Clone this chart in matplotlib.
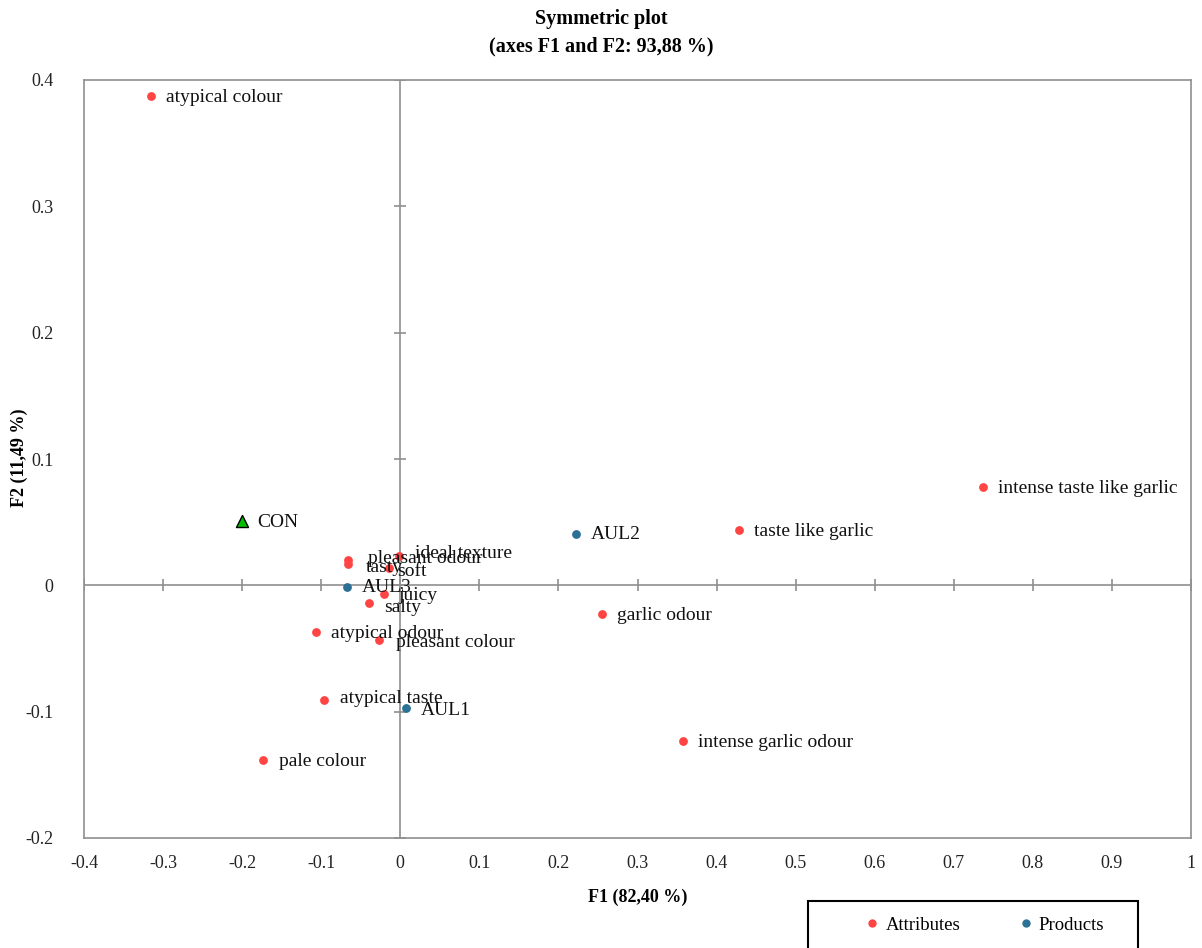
import numpy as np
import matplotlib
matplotlib.use("Agg")
import matplotlib.pyplot as plt
from matplotlib.patches import Rectangle
from matplotlib.lines import Line2D

plt.rcParams['font.family'] = ['Liberation Serif', 'DejaVu Serif']

# Attributes (red points)
attr_names = ["atypical colour", "intense taste like garlic", "taste like garlic",
              "pleasant odour", "tasty", "ideal texture", "soft", "juicy", "salty",
              "atypical odour", "pleasant colour", "garlic odour", "atypical taste",
              "intense garlic odour", "pale colour"]
attr_f1 = [-0.315, 0.737, 0.428, -0.066, -0.066, -0.002, -0.014, -0.021, -0.040,
           -0.107, -0.027, 0.255, -0.096, 0.357, -0.173]
attr_f2 = [0.387, 0.0776, 0.0435, 0.0198, 0.0166, 0.023, 0.014, -0.007, -0.014,
           -0.037, -0.043, -0.023, -0.0905, -0.1235, -0.138]

# Products (blue points)
prod_names = ["AUL1", "AUL2", "AUL3"]
prod_f1 = [0.007, 0.222, -0.068]
prod_f2 = [-0.097, 0.041, -0.001]

# Control (green triangle)
con_name = "CON"
con_f1 = -0.200
con_f2 = 0.051

xticks = [-0.4, -0.3, -0.2, -0.1, 0, 0.1, 0.2, 0.3, 0.4, 0.5, 0.6, 0.7, 0.8, 0.9, 1]
yticks = [-0.2, -0.1, 0, 0.1, 0.2, 0.3, 0.4]

RED = "#FF4444"
BLUE = "#2B7196"
GREEN = "#00C000"
GRAY = "#8f8f8f"

# label offsets in points (x, y)
offsets = {"pleasant odour": (14, 1), "tasty": (13, -2), "ideal texture": (12, 2),
           "soft": (6, -3), "juicy": (11, -1), "salty": (11, -3),
           "pleasant colour": (12, -2), "atypical taste": (11, 1), "AUL1": (11, -2)}

fig = plt.figure(figsize=(12.02, 9.48), dpi=100)
ax = fig.add_axes([84/1202, 1-838/948, (1191-84)/1202, (838-80)/948])

ax.set_xlim(-0.4, 1.0)
ax.set_ylim(-0.2, 0.4)
ax.set_xticks(xticks)
ax.set_yticks(yticks)
ax.set_xticklabels(["1" if t == 1 else ("0" if t == 0 else f"{t:g}") for t in xticks])
ax.set_yticklabels(["0" if t == 0 else f"{t:g}" for t in yticks])
ax.tick_params(length=0, labelsize=13, colors="#222222")
ax.tick_params(axis="x", pad=12)
ax.tick_params(axis="y", pad=22)
for s in ax.spines.values():
    s.set_color(GRAY)
    s.set_linewidth(1.2)

# zero lines with cross ticks
ax.axhline(0, color=GRAY, lw=1.2, zorder=1)
ax.axvline(0, color=GRAY, lw=1.2, zorder=1)
ax.plot(xticks, np.zeros(len(xticks)), ls="none", marker="|", ms=9, mew=1.2, color=GRAY, zorder=1)
ax.plot(np.zeros(len(yticks)), yticks, ls="none", marker="_", ms=9, mew=1.2, color=GRAY, zorder=1)

ax.scatter(attr_f1, attr_f2, s=40, color=RED, zorder=3, linewidths=0)
ax.scatter(prod_f1, prod_f2, s=40, color=BLUE, zorder=3, linewidths=0)
ax.scatter([con_f1], [con_f2], s=75, marker="^", color=GREEN, edgecolors="black",
           linewidths=1, zorder=3)

for name, x, y in zip(attr_names + prod_names + [con_name],
                      attr_f1 + prod_f1 + [con_f1], attr_f2 + prod_f2 + [con_f2]):
    ax.annotate(name, (x, y), xytext=offsets.get(name, (11, -1)), textcoords="offset points",
                va="center", ha="left", fontsize=14, color="#111111", zorder=4)

ax.set_xlabel("F1 (82,40 %)", fontsize=13, fontweight="bold", labelpad=12)
ax.set_ylabel("F2 (11,49 %)", fontsize=13, fontweight="bold")
ax.yaxis.set_label_coords(-0.051, 0.501)
fig.suptitle("Symmetric plot\n(axes F1 and F2: 93,88 %)", fontsize=14.5, fontweight="bold",
             y=0.99, linespacing=1.45)

# legend box (cut off at bottom, as in the original)
fig.patches.append(Rectangle((808/1202, -0.05), (1138-808)/1202, 0.05 + 47/948,
                             transform=fig.transFigure, fill=False, edgecolor="black",
                             linewidth=1.5, clip_on=False))
handles = [Line2D([], [], ls="none", marker="o", ms=5, color=RED),
           Line2D([], [], ls="none", marker="o", ms=5, color=BLUE)]
fig.legend(handles, ["Attributes", "Products"], loc="center left", ncol=2,
           bbox_to_anchor=(846/1202, 1-925/948), frameon=False, fontsize=13.5,
           handletextpad=0.2, columnspacing=3.0, handlelength=1.0)

fig.savefig("out.png", dpi=100)
